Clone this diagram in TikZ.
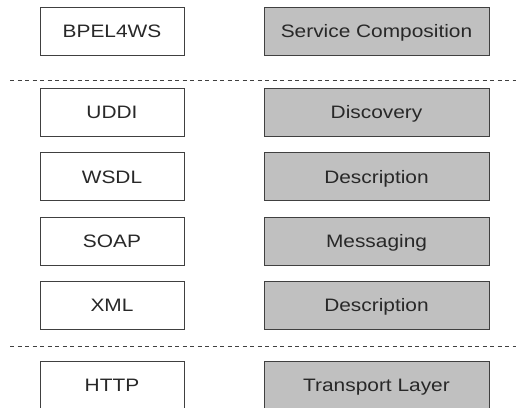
\documentclass[tikz,border=0pt]{standalone}
\usepackage{fontspec}
\setmainfont{Liberation Sans}[FakeStretch=1.16]
\usepackage{tikz}
\usetikzlibrary{positioning}

\begin{document}
\begin{tikzpicture}[
  x=1pt,
  y=-1pt,
  font=\fontsize{18}{21}\selectfont,
  techbox/.style={draw=edgegray, line width=0.9pt, fill=white,
    minimum width=144pt, minimum height=48pt, inner sep=0pt,
    text height=13pt, text depth=0pt, text=textgray},
  rolebox/.style={techbox, fill=rolegray, minimum width=225pt},
  layerline/.style={edgegray, line width=0.9pt, dash pattern=on 4pt off 3.5pt}
]
  \definecolor{edgegray}{RGB}{64,64,64}
  \definecolor{rolegray}{RGB}{192,192,192}
  \definecolor{textgray}{RGB}{40,40,40}

  \useasboundingbox (0,0) rectangle (516,407);
  \clip (0,0) rectangle (516,407);

  % Technology / role pairs, one row per layer
  \foreach \y/\tech/\role/\nm in {31/BPEL4WS/Service Composition/bpel,
      112/UDDI/Discovery/uddi,
      176.5/WSDL/Description/wsdl,
      241/SOAP/Messaging/soap,
      305/XML/Description/xml,
      385/HTTP/Transport Layer/http}{
    \node[techbox] (t\nm) at (112,\y) {\tech};
    \node[rolebox] (r\nm) at (376.5,\y) {\role};
  }

  % Separators between the layer groups
  \draw[layerline] (10,80.5) -- (516,80.5);
  \draw[layerline] (10,346) -- (516,346);
\end{tikzpicture}
\end{document}
